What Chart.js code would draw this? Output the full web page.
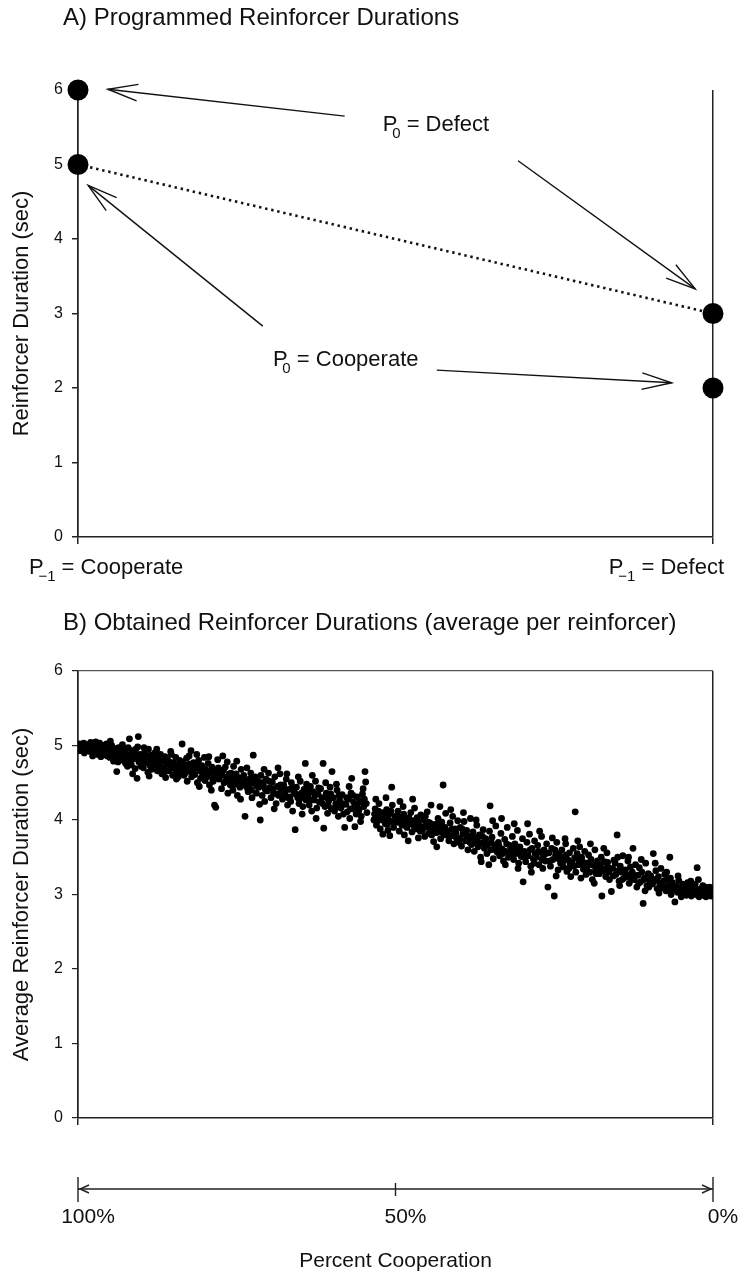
<!DOCTYPE html>
<html>
<head>
<meta charset="utf-8">
<script src="https://cdn.jsdelivr.net/npm/chart.js@4.4.1/dist/chart.umd.min.js"></script>
<style>
  html, body { margin: 0; padding: 0; background: #fff; overflow: hidden; }
  #wrap { position: relative; width: 738px; height: 1274px; background: #fff; }
  canvas { position: absolute; left: 0; display: block; }
  #chartA { top: 0; }
  #chartB { top: 600px; }
</style>
</head>
<body>
<div id="wrap">
  <canvas id="chartA" width="738" height="600"></canvas>
  <canvas id="chartB" width="738" height="674"></canvas>
</div>
<script>
// ---------------- DATA ----------------
const panelATitle = 'A) Programmed Reinforcer Durations';
const panelBTitle = 'B) Obtained Reinforcer Durations (average per reinforcer)';

// Panel A: previous choice of the partner (x categories), programmed durations (sec)
const prevChoice = ['Cooperate', 'Defect'];          // P-1
const p0Defect = [6, 3];                              // reinforcer when P0 = Defect
const p0Cooperate = [5, 2];                           // reinforcer when P0 = Cooperate
const mutualLine = [5, 3];                            // dotted line: mutual cooperation -> mutual defection
const yTicksA = [0, 1, 2, 3, 4, 5, 6];

// Panel B: percent cooperation (x) vs average reinforcer duration (y)
const obtainedHigh = [
[100,4.97],[99.8,5.02],[99.6,4.93],[99.5,4.99],[99.3,4.96],[99.1,5.03],[99.0,4.90],[98.8,4.98],[98.6,4.94],[98.5,5.01],[98.3,4.96],[98.1,4.92],[98.0,5.04],[99.9,4.94],[99.4,5.0],[98.9,4.95],[98.2,4.99],
[97.8,4.97],[97.6,4.91],[97.5,5.02],[97.3,4.95],[97.1,4.99],[97.0,4.88],[96.8,4.96],[96.6,5.03],[96.5,4.93],[96.3,4.98],[96.1,4.90],[96.0,5.0],[97.7,4.86],[97.2,5.05],[96.9,4.93],[96.4,4.85],
[95.8,4.95],[95.7,4.88],[95.5,5.02],[95.3,4.91],[95.2,4.97],[95.0,4.84],[94.8,4.93],[94.7,5.0],[94.5,4.89],[94.3,4.96],[94.2,4.82],[94.0,4.92],[95.9,4.99],[95.4,4.86],[94.9,5.06],[94.4,4.79],
[93.9,4.65],[93.8,4.9],[93.6,4.97],[93.5,4.83],[93.3,4.93],[93.1,4.87],[93.0,5.01],[92.8,4.8],[92.6,4.92],[92.5,4.76],[92.3,4.88],[92.1,4.97],[92.0,4.84],[93.7,4.78],[92.9,4.95],[92.2,4.72],
[91.9,5.09],[91.8,4.86],[91.6,4.74],[91.5,4.93],[91.3,4.82],[91.1,4.9],[91.0,4.69],[90.8,4.85],[90.7,4.56],[90.6,4.98],[90.5,5.12],[90.4,4.78],[90.2,4.88],[90.1,4.72],[91.4,4.62],[90.9,4.95],[91.7,4.8],
[89.9,4.83],[89.7,4.7],[89.5,4.91],[89.4,4.77],[89.2,4.86],[89.0,4.64],[88.9,4.95],[88.7,4.79],[88.5,4.87],[88.4,4.68],[88.2,4.82],[88.0,4.74],[89.6,4.97],[88.8,4.59],
[87.9,4.9],[87.7,4.76],[87.5,4.66],[87.4,4.84],[87.2,4.71],[87.0,4.88],[86.8,4.62],[86.7,4.79],[86.5,4.7],[86.3,4.85],[86.2,4.57],[86.0,4.75],[87.6,4.95],[86.9,4.68],
[85.9,4.81],[85.7,4.66],[85.5,4.73],[85.3,4.88],[85.1,4.6],[85.0,4.77],[84.8,4.69],[84.6,4.84],[84.5,4.55],[84.3,4.74],[84.1,4.65],[84.0,4.8],[85.4,4.92],[84.7,4.62],
[83.8,4.71],[83.6,5.02],[83.5,4.78],[83.3,4.6],[83.1,4.7],[82.9,4.83],[82.8,4.52],[82.6,4.66],[82.4,4.75],[82.2,4.93],[82.1,4.58],[82.0,4.69],[83.0,4.64],[82.5,4.86],
[81.8,4.77],[81.6,4.61],[81.4,4.7],[81.2,4.5],[81.0,4.8],[80.8,4.66],[80.7,4.56],[80.5,4.73],[80.3,4.62],[80.1,4.84],[80.0,4.53],[81.3,4.88],[80.9,4.45],
[79.9,4.68],[79.7,4.58],[79.5,4.76],[79.3,4.47],[79.1,4.63],[78.9,4.71],[78.7,4.52],[78.5,4.2],[78.3,4.17],[78.2,4.6],[78.0,4.81],[79.0,4.4],[78.6,4.66],[79.4,4.85],
[77.8,4.55],[77.6,4.64],[77.4,4.42],[77.2,4.86],[77.0,4.5],[76.8,4.71],[76.6,4.58],[76.4,4.36],[76.2,4.62],[76.0,4.47],[77.1,4.67],[76.5,4.78]
];
const obtainedMid = [
[75.8,4.55],[75.6,4.4],[75.5,4.72],[75.3,4.48],[75.1,4.62],[74.9,4.33],[74.7,4.57],[74.5,4.44],[74.3,4.68],[74.1,4.51],[75.0,4.79],[74.4,4.28],
[73.9,4.6],[73.7,4.05],[73.6,4.46],[73.4,4.7],[73.2,4.38],[73.0,4.55],[72.8,4.63],[72.6,4.3],[72.4,4.87],[72.3,4.49],[72.1,4.58],[73.3,4.42],[72.7,4.4],
[71.9,4.36],[71.7,4.52],[71.5,4.44],[71.3,4.0],[71.2,4.6],[71.0,4.33],[70.8,4.47],[70.6,4.25],[70.4,4.55],[70.2,4.39],[70.0,4.63],[71.4,4.21],[70.7,4.68],
[69.8,4.43],[69.6,4.3],[69.4,4.51],[69.2,4.36],[69.0,4.58],[68.8,4.22],[68.6,4.45],[68.4,4.33],[68.2,4.62],[68.0,4.4],[69.1,4.15],[68.5,4.7],
[67.8,4.28],[67.6,4.47],[67.4,4.35],[67.2,4.55],[67.0,4.2],[66.8,4.41],[66.6,4.31],[66.4,4.5],[66.2,4.12],[66.0,4.38],[65.8,3.87],[67.1,4.62],[66.5,4.25],
[65.6,4.44],[65.4,4.3],[65.2,4.22],[65.0,4.52],[64.8,4.36],[64.6,4.18],[64.4,4.41],[64.2,4.76],[64.1,4.27],[64.0,4.48],[65.3,4.58],[64.7,4.08],
[63.8,4.33],[63.6,4.2],[63.4,4.45],[63.2,4.12],[63.0,4.38],[62.8,4.27],[62.6,4.52],[62.4,4.16],[62.2,4.35],[62.0,4.24],[63.1,4.6],[62.5,4.02],
[61.8,4.42],[61.6,4.3],[61.4,4.76],[61.3,3.89],[61.1,4.18],[60.9,4.36],[60.7,4.09],[60.5,4.26],[60.3,4.44],[60.1,4.15],[60.0,4.65],[61.0,4.5],[60.6,4.2],
[59.8,4.3],[59.6,4.12],[59.4,4.22],[59.2,4.4],[59.0,4.05],[58.8,4.27],[58.6,4.16],[58.4,4.34],[58.2,4.08],[58.0,3.9],[59.3,4.48],[58.5,4.19],
[57.8,4.21],[57.6,4.11],[57.4,4.28],[57.2,4.02],[57.0,4.36],[56.8,4.15],[56.6,4.24],[56.4,3.91],[56.2,4.08],[56.0,4.31],[57.3,4.45],[56.5,4.17],[56.9,4.56],
[55.8,4.12],[55.6,4.26],[55.4,4.05],[55.2,4.35],[55.0,4.18],[54.8,4.65],[54.7,4.51],[54.6,4.22],[55.5,3.98],[55.1,4.42],[54.9,4.28],
[53.4,4.0],[53.2,4.15],[53.0,3.93],[52.8,4.06],[52.6,4.22],[52.4,3.88],[52.2,4.1],[52.0,3.81],[53.1,4.28],[52.5,4.01],[52.9,3.98],
[51.8,4.02],[51.6,3.95],[51.4,4.14],[51.2,3.86],[51.0,4.08],[50.8,3.98],[50.6,4.44],[50.5,4.2],[50.3,3.9],[50.1,4.05],[51.5,4.3],[50.9,3.79],[51.1,4.0],
[49.8,3.97],[49.6,4.12],[49.4,3.85],[49.2,4.03],[49.0,3.93],[48.8,4.18],[48.6,3.8],[48.4,4.0],[48.2,3.9],[48.0,3.72],[49.3,4.25],[48.7,4.08],
[47.8,3.95],[47.6,4.1],[47.4,3.84],[47.2,3.99],[47.0,4.16],[46.8,3.88],[46.6,4.03],[46.4,3.76],[46.2,3.92],[46.0,4.07],[47.3,4.28],[46.5,3.98],
[45.8,3.86],[45.6,4.0],[45.4,3.78],[45.2,3.93],[45.0,4.11],[44.8,3.82],[44.6,3.96],[44.4,4.2],[44.2,3.88],[44.0,3.71],[45.3,4.05],[44.7,3.9],
[43.8,3.94],[43.6,3.83],[43.5,3.64],[43.3,4.02],[43.1,3.88],[42.9,3.75],[42.7,3.97],[42.5,4.47],[42.3,3.8],[42.1,4.09],[43.0,4.18],[42.6,3.9],
[41.8,3.85],[41.6,3.72],[41.4,3.96],[41.2,3.79],[41.0,4.05],[40.8,3.68],[40.6,3.88],[40.4,3.76],[40.2,3.99],[40.0,3.7],[41.3,4.14],[40.7,3.82],
[39.8,3.9],[39.6,3.65],[39.4,3.81],[39.2,3.98],[39.0,3.72],[38.8,3.86],[38.6,3.6],[38.4,3.78],[38.2,4.02],[38.0,3.67],[39.3,4.1],[38.5,3.74],
[37.8,3.84],[37.6,3.58],[37.4,3.71],[37.2,3.93],[37.0,3.64],[36.8,3.8],[36.6,3.5],[36.4,3.69],[36.2,3.87],[36.0,3.62],[37.3,4.0],[36.5,3.44]
];
const obtainedLow = [
[35.8,3.75],[35.6,3.55],[35.1,4.19],[35.4,3.68],[35.2,3.85],[35.0,3.6],[34.8,3.77],[34.6,3.48],[34.4,3.66],[34.2,3.92],[34.0,3.57],[35.3,3.4],[34.7,3.99],
[33.8,3.7],[33.6,3.52],[33.4,3.82],[33.2,3.61],[33.0,3.45],[32.8,3.74],[32.6,3.58],[32.4,3.9],[32.2,3.5],[32.0,3.66],[33.3,4.02],[32.7,3.4],
[31.8,3.6],[31.6,3.78],[31.4,3.47],[31.2,3.68],[31.0,3.55],[30.8,3.86],[30.6,3.42],[30.4,3.64],[30.2,3.51],[30.0,3.75],[29.9,3.17],[31.3,3.95],[30.7,3.35],
[29.7,3.58],[29.5,3.44],[29.3,3.7],[29.1,3.52],[28.9,3.81],[28.7,3.38],[28.5,3.62],[28.3,3.48],[28.1,3.72],[28.0,3.55],[29.2,3.95],[28.6,3.3],
[27.8,3.5],[27.6,3.66],[27.4,3.4],[27.2,3.57],[27.0,3.78],[26.8,3.35],[26.6,3.6],[26.4,3.45],[26.2,3.68],[26.0,3.1],[27.3,3.85],[26.7,3.52],
[25.8,3.56],[25.6,3.38],[25.4,3.62],[25.2,3.47],[25.0,2.98],[24.8,3.52],[24.6,3.7],[24.4,3.33],[24.2,3.55],[24.0,3.42],[25.3,3.76],[24.7,3.25],
[23.8,3.6],[23.6,3.37],[23.4,3.5],[23.2,3.68],[23.0,3.31],[22.8,3.46],[22.6,3.56],[22.4,3.24],[22.2,3.43],[22.0,3.62],[21.7,4.11],[23.3,3.75],[22.7,3.35],
[21.8,3.49],[21.6,3.3],[21.4,3.55],[21.2,3.4],[21.0,3.64],[20.8,3.22],[20.6,3.45],[20.4,3.34],[20.2,3.58],[20.0,3.27],[21.3,3.72],[20.7,3.5],
[19.8,3.42],[19.6,3.53],[19.4,3.3],[19.2,3.47],[19.0,3.2],[18.8,3.39],[18.6,3.6],[18.4,3.28],[18.2,3.45],[18.0,3.35],[19.3,3.68],[18.7,3.15],
[17.8,3.4],[17.6,3.5],[17.5,2.98],[17.3,3.32],[17.1,3.44],[16.9,3.24],[16.7,3.56],[16.5,3.36],[16.3,3.2],[16.0,3.04],[17.2,3.62],[16.6,3.43],
[15.8,3.35],[15.6,3.46],[15.1,3.8],[15.3,3.27],[15.0,3.5],[14.8,3.18],[14.6,3.38],[14.4,3.3],[14.2,3.52],[14.0,3.22],[15.4,3.42],[14.7,3.12],
[13.8,3.33],[13.6,3.24],[13.4,3.45],[13.2,3.15],[13.0,3.37],[12.8,3.28],[12.6,3.62],[12.4,3.2],[12.2,3.4],[12.0,3.1],[13.3,3.5],[12.7,3.3],
[11.8,3.26],[11.6,3.36],[11.4,3.17],[11.2,3.3],[11.0,2.88],[10.8,3.22],[10.6,3.42],[10.4,3.12],[10.2,3.28],[10.0,3.19],[11.3,3.47],[10.7,3.05],
[9.8,3.25],[9.6,3.14],[9.4,3.55],[9.2,3.2],[9.0,3.32],[8.8,3.08],[8.6,3.24],[8.4,3.15],[8.2,3.35],[8.0,3.1],[9.1,3.42],[8.5,3.02],
[7.8,3.18],[7.6,3.27],[7.4,3.05],[7.2,3.2],[7.0,3.12],[6.8,3.5],[6.6,3.0],[6.4,3.16],[6.2,3.08],[6.0,2.9],[7.3,3.3],[6.7,3.22],[6.1,3.1],
[5.8,3.12],[5.6,3.03],[5.4,3.19],[5.2,3.07],[5.0,2.97],[4.8,3.14],[4.6,3.04],[4.4,3.1],[4.2,2.99],[4.0,3.16],[5.5,3.25],[4.7,3.0],[5.1,3.09],
[3.8,3.06],[3.6,3.12],[3.4,2.98],[3.2,3.08],[3.0,3.02],[2.8,3.14],[2.6,3.0],[2.5,3.36],[2.4,3.07],[2.2,2.97],[2.0,3.04],[3.5,3.18],[2.9,3.1],[2.3,3.2],
[1.9,3.03],[1.7,3.09],[1.5,2.99],[1.4,3.05],[1.2,3.1],[1.0,3.0],[0.8,3.06],[0.6,3.02],[0.4,3.08],[0.2,3.01],[0.0,3.05],[1.6,3.12],[1.1,2.97],[0.5,3.1],[0.3,2.98],[0.1,3.03]
];
const obtainedCore = [
[89.3,4.8],[88.6,4.72],[87.8,4.83],[87.1,4.77],[86.4,4.64],[85.6,4.78],[84.9,4.71],[84.2,4.58],[83.4,4.67],[82.7,4.74],[81.9,4.64],[81.1,4.72],[80.4,4.59],[79.6,4.65],[78.8,4.55],[77.9,4.7],[77.3,4.6],[76.7,4.52],
[75.9,4.63],[75.2,4.55],[74.6,4.5],[73.8,4.53],[73.1,4.47],[72.5,4.57],[71.8,4.45],[71.1,4.5],[70.5,4.41],[69.9,4.52],[69.3,4.42],[68.7,4.35],[68.1,4.47],[67.5,4.4],[66.9,4.3],[66.3,4.43],[65.7,4.35],[65.1,4.28],
[64.5,4.33],[63.9,4.4],[63.3,4.27],[62.7,4.33],[62.1,4.43],[61.5,4.22],[60.8,4.3],[60.2,4.35],[59.5,4.17],[58.9,4.33],[58.3,4.22],[57.7,4.3],[57.1,4.15],[56.7,4.33],[56.1,4.2],[55.7,4.15],[55.3,4.24],[54.5,4.1],
[53.3,4.08],[52.7,4.12],[52.1,4.0],[51.7,4.1],[51.3,3.94],[50.7,4.12],[50.2,3.97],[49.7,4.06],[49.1,3.98],[48.5,3.93],[47.9,4.03],[47.1,3.92],[46.7,3.96],[46.1,3.85],[45.5,3.9],[44.9,3.97],[44.3,3.8],[43.7,3.87],
[43.2,3.95],[42.8,3.84],[42.2,3.9],[41.7,3.79],[41.1,3.88],[40.5,3.83],[39.9,3.75],[39.5,3.88],[38.9,3.8],[38.3,3.7],[37.7,3.77],[37.1,3.72],[36.3,3.78],[35.7,3.66],[34.9,3.7],[34.3,3.6],[33.7,3.65],[33.1,3.55],
[32.5,3.68],[31.9,3.52],[31.1,3.62],[30.5,3.57],[29.6,3.5],[28.8,3.6],[28.2,3.42],[27.5,3.58],[26.9,3.47],[26.3,3.55],[25.7,3.45],[24.9,3.6],[24.3,3.48],[23.7,3.42],[23.1,3.53],[22.5,3.4],[21.9,3.38],[21.1,3.47],
[20.5,3.4],[19.9,3.35],[19.1,3.4],[18.5,3.32],[17.9,3.28],[17.0,3.35],[16.4,3.3],[15.7,3.25],[14.9,3.32],[14.3,3.2],[13.7,3.27],[12.9,3.2],[12.3,3.25],[11.7,3.15],[10.9,3.2],[10.1,3.1],[9.5,3.15],[8.9,3.2],
[8.3,3.08],[7.7,3.1],[6.9,3.05],[6.3,3.12],[5.7,3.06],[4.9,3.05],[4.3,3.04]
];
const xTicksB = [100, 50, 0];
const yTicksB = [0, 1, 2, 3, 4, 5, 6];

// ---------------- STYLE / ANNOTATIONS ----------------
const FONT = '"Liberation Sans", Arial, Helvetica, sans-serif';
const INK = '#111';
const AXIS = '#222';
Chart.defaults.font.family = FONT;
Chart.defaults.color = INK;

// arrows of panel A, in data units [x, y] (tail -> head)
const annotA = {
  arrows: [
    { from: [0.420, 5.65], to: [0.047, 6.01] },
    { from: [0.693, 5.05], to: [0.972, 3.33] },
    { from: [0.291, 2.83], to: [0.016, 4.72] },
    { from: [0.565, 2.24], to: [0.935, 2.07] }
  ],
  labels: [
    { at: [0.480, 5.53], base: 'P', sub: '0', rest: ' = Defect' },
    { at: [0.307, 2.38], base: 'P', sub: '0', rest: ' = Cooperate' }
  ]
};

function drawArrow(ctx, x1, y1, x2, y2, len, ang) {
  ctx.beginPath(); ctx.moveTo(x1, y1); ctx.lineTo(x2, y2); ctx.stroke();
  const a = Math.atan2(y1 - y2, x1 - x2);
  ctx.beginPath();
  ctx.moveTo(x2 + len * Math.cos(a + ang), y2 + len * Math.sin(a + ang));
  ctx.lineTo(x2, y2);
  ctx.lineTo(x2 + len * Math.cos(a - ang), y2 + len * Math.sin(a - ang));
  ctx.stroke();
}

function subLabel(ctx, x, yMid, base, sub, rest, size, align) {
  const main = size + 'px ' + FONT;
  const small = Math.round(size * 0.66) + 'px ' + FONT;
  ctx.font = main;
  const wBase = ctx.measureText(base).width;
  const wRest = ctx.measureText(rest).width;
  ctx.font = small;
  const wSub = ctx.measureText(sub).width;
  const subX = wBase - size * 0.24;
  const total = subX + wSub + wRest;
  const x0 = align === 'right' ? x - total : x;
  ctx.textBaseline = 'middle';
  ctx.textAlign = 'left';
  ctx.font = main; ctx.fillText(base, x0, yMid);
  ctx.font = small; ctx.fillText(sub, x0 + subX, yMid + size * 0.42);
  ctx.font = main; ctx.fillText(rest, x0 + subX + wSub, yMid);
}

const decoA = {
  id: 'decoA',
  afterDraw(chart) {
    const { ctx, chartArea, scales: { x, y } } = chart;
    ctx.save();
    ctx.fillStyle = INK;
    ctx.font = '24px ' + FONT;
    ctx.textBaseline = 'middle'; ctx.textAlign = 'left';
    ctx.fillText(panelATitle, 63, 18);
    ctx.strokeStyle = INK; ctx.lineWidth = 1.4;
    annotA.arrows.forEach(a => {
      drawArrow(ctx, x.getPixelForValue(a.from[0]), y.getPixelForValue(a.from[1]),
        x.getPixelForValue(a.to[0]), y.getPixelForValue(a.to[1]), 31, 0.27);
    });
    annotA.labels.forEach(l => {
      subLabel(ctx, x.getPixelForValue(l.at[0]), y.getPixelForValue(l.at[1]), l.base, l.sub, l.rest, 22, 'left');
    });
    const ly = chartArea.bottom + 31;
    subLabel(ctx, x.getPixelForValue(0) - 49, ly, 'P', '\u22121', ' = ' + prevChoice[0], 22, 'left');
    subLabel(ctx, x.getPixelForValue(1) + 11, ly, 'P', '\u22121', ' = ' + prevChoice[1], 22, 'right');
    ctx.restore();
  }
};

const decoB = {
  id: 'decoB',
  afterDraw(chart) {
    const { ctx, chartArea, scales: { x } } = chart;
    ctx.save();
    ctx.fillStyle = INK;
    ctx.font = '24px ' + FONT;
    ctx.textBaseline = 'middle'; ctx.textAlign = 'left';
    ctx.fillText(panelBTitle, 63, 23);
    // double-arrow percent axis
    const ay = chartArea.bottom + 71;
    const xl = x.getPixelForValue(xTicksB[0]);
    const xm = x.getPixelForValue(xTicksB[1]);
    const xr = x.getPixelForValue(xTicksB[2]);
    ctx.strokeStyle = AXIS; ctx.lineWidth = 1.4;
    ctx.beginPath(); ctx.moveTo(xl, ay); ctx.lineTo(xr, ay); ctx.stroke();
    ctx.beginPath();
    ctx.moveTo(xl, ay - 12); ctx.lineTo(xl, ay + 13);
    ctx.moveTo(xr, ay - 12); ctx.lineTo(xr, ay + 13);
    ctx.moveTo(xm, ay - 6); ctx.lineTo(xm, ay + 7);
    ctx.stroke();
    ctx.beginPath();
    ctx.moveTo(xl + 11, ay - 4); ctx.lineTo(xl + 2, ay); ctx.lineTo(xl + 11, ay + 4);
    ctx.moveTo(xr - 11, ay - 4); ctx.lineTo(xr - 2, ay); ctx.lineTo(xr - 11, ay + 4);
    ctx.stroke();
    ctx.restore();
  }
};

// ---------------- CHART A ----------------
new Chart(document.getElementById('chartA'), {
  type: 'scatter',
  data: {
    datasets: [
      { label: 'P0 = Defect', data: p0Defect.map((v, i) => ({ x: i, y: v })),
        pointRadius: 10.5, backgroundColor: '#000', borderColor: '#000', borderWidth: 0, order: 0, clip: false },
      { label: 'P0 = Cooperate', data: p0Cooperate.map((v, i) => ({ x: i, y: v })),
        pointRadius: 10.5, backgroundColor: '#000', borderColor: '#000', borderWidth: 0, order: 0, clip: false },
      { type: 'line', label: 'mutual', data: mutualLine.map((v, i) => ({ x: i, y: v })),
        borderColor: INK, borderWidth: 2.6, borderDash: [2.4, 3.8], pointRadius: 0, fill: false, order: 2, clip: false }
    ]
  },
  options: {
    responsive: false, animation: false, devicePixelRatio: 1, events: [],
    layout: { padding: { left: 0, right: 25, top: 90, bottom: 0 } },
    plugins: { legend: { display: false }, tooltip: { enabled: false } },
    scales: {
      x: {
        type: 'linear', min: 0, max: 1,
        afterBuildTicks: s => { s.ticks = [{ value: 0 }, { value: 1 }]; },
        ticks: { display: false },
        grid: { display: true, drawOnChartArea: true, drawTicks: true, tickLength: 7, color: AXIS, lineWidth: 1.5 },
        border: { display: true, color: AXIS, width: 1.5 },
        afterFit: s => { s.height = 63; s.paddingLeft = 0; s.paddingRight = 0; }
      },
      y: {
        min: 0, max: 6,
        afterBuildTicks: s => { s.ticks = yTicksA.map(v => ({ value: v })); },
        ticks: { font: { size: 16 }, color: INK, padding: 9 },
        grid: { drawOnChartArea: false, drawTicks: true, tickLength: 6, color: AXIS, lineWidth: 1.5 },
        border: { display: true, color: AXIS, width: 1.5 },
        title: { display: true, text: 'Reinforcer Duration (sec)', font: { size: 22 }, color: INK, padding: { top: 9, bottom: 0 } },
        afterFit: s => { s.width = 78; }
      }
    }
  },
  plugins: [decoA]
});

// ---------------- CHART B ----------------
const toPts = arr => arr.map(p => ({ x: p[0], y: p[1] }));
const dotStyle = { pointRadius: 3.4, pointBackgroundColor: '#000', pointBorderWidth: 0, backgroundColor: '#000', borderColor: '#000' };
new Chart(document.getElementById('chartB'), {
  type: 'scatter',
  data: {
    datasets: [
      Object.assign({ label: 'high', data: toPts(obtainedHigh) }, dotStyle),
      Object.assign({ label: 'mid', data: toPts(obtainedMid) }, dotStyle),
      Object.assign({ label: 'low', data: toPts(obtainedLow) }, dotStyle),
      Object.assign({ label: 'core', data: toPts(obtainedCore) }, dotStyle)
    ]
  },
  options: {
    responsive: false, animation: false, devicePixelRatio: 1, events: [],
    layout: { padding: { left: 0, right: 25, top: 71, bottom: 0 } },
    plugins: { legend: { display: false }, tooltip: { enabled: false } },
    scales: {
      x: {
        type: 'linear', min: 0, max: 100, reverse: true,
        afterBuildTicks: s => { s.ticks = xTicksB.map(v => ({ value: v })); },
        ticks: { font: { size: 21 }, color: INK, padding: 80, labelOffset: 10, maxRotation: 0, autoSkip: false, callback: v => v + '%' },
        grid: { display: true, drawOnChartArea: true, drawTicks: true, tickLength: 7, lineWidth: 1.5,
          color: c => (c.tick && c.tick.value === 50) ? 'rgba(0,0,0,0)' : AXIS },
        border: { display: true, color: AXIS, width: 1.5 },
        title: { display: true, text: 'Percent Cooperation', font: { size: 21 }, color: INK, padding: { top: 0, bottom: 0 } },
        afterFit: s => { s.height = 156; s.paddingLeft = 0; s.paddingRight = 0; }
      },
      y: {
        min: 0, max: 6,
        afterBuildTicks: s => { s.ticks = yTicksB.map(v => ({ value: v })); },
        ticks: { font: { size: 16 }, color: INK, padding: 9 },
        grid: { drawOnChartArea: true, drawTicks: true, tickLength: 6, lineWidth: 1.2,
          color: c => (c.tick && c.tick.value === 6) ? '#555' : 'rgba(0,0,0,0)', tickColor: AXIS },
        border: { display: true, color: AXIS, width: 1.5 },
        title: { display: true, text: 'Average Reinforcer Duration (sec)', font: { size: 22 }, color: INK, padding: { top: 9, bottom: 0 } },
        afterFit: s => { s.width = 78; }
      }
    }
  },
  plugins: [decoB]
});
</script>
</body>
</html>
